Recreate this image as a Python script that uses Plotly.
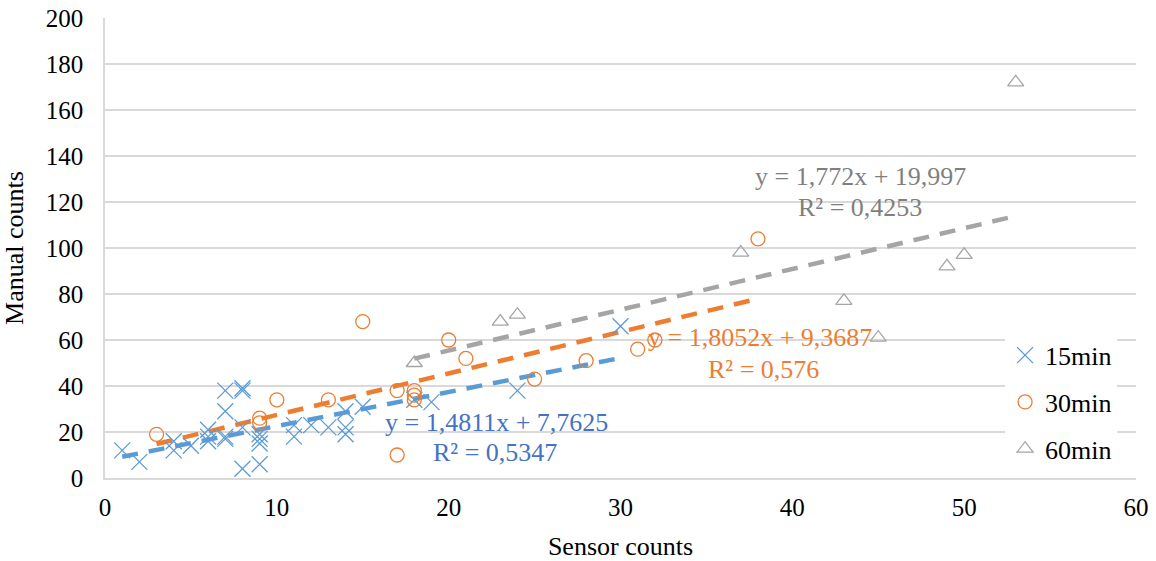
import plotly.graph_objects as go

# ---- data ----
x15 = [1, 2, 4, 4, 5, 6, 6, 6, 7, 7, 7, 7, 8, 8, 8, 8, 9, 9, 9, 9, 11, 11, 12, 13, 14, 14, 14, 15, 18, 19, 24, 30]
y15 = [12, 7, 12, 16, 14, 16, 18, 21, 38, 29, 18, 17, 39, 38, 22, 4, 6, 15, 17, 19, 18, 23, 23, 22, 29, 22, 19, 31, 34, 33, 38, 66]

x30 = [3, 9, 9, 10, 13, 15, 17, 17, 18, 18, 18, 20, 21, 25, 28, 31, 32, 38]
y30 = [19, 26, 24, 34, 34, 68, 38, 10, 38, 36, 34, 60, 52, 43, 51, 56, 60, 104]

x60 = [18, 23, 24, 37, 43, 45, 49, 50, 53]
y60 = [50, 68, 71, 98, 77, 61, 92, 97, 172]

series_names = ["15min", "30min", "60min"]
slopes = [1.4811, 1.8052, 1.772]
intercepts = [7.7625, 9.3687, 19.997]
r2 = ["0,5347", "0,576", "0,4253"]
eq_text = ["y = 1,4811x + 7,7625", "y = 1,8052x + 9,3687", "y = 1,772x + 19,997"]

x_ticks = [0, 10, 20, 30, 40, 50, 60]
y_ticks = [0, 20, 40, 60, 80, 100, 120, 140, 160, 180, 200]

# ---- styles ----
marker_colors = ["#5B9BD5", "#ED7D31", "#A5A5A5"]
label_colors = ["#4472C4", "#ED7D31", "#7F7F7F"]
symbols = ["x-thin-open", "circle-open", "triangle-up-open"]
FONT = "Liberation Serif, Times New Roman, serif"

xs = [x15, x30, x60]
ys = [y15, y30, y60]

fig = go.Figure()

# trendlines (drawn first, under markers)
for i in range(3):
    xr = [min(xs[i]), max(xs[i])]
    yr = [slopes[i] * v + intercepts[i] for v in xr]
    fig.add_trace(go.Scatter(
        x=xr, y=yr, mode="lines", showlegend=False, hoverinfo="skip",
        line=dict(color=marker_colors[i], width=4.5, dash="16px,11px"),
    ))

for i in range(3):
    fig.add_trace(go.Scatter(
        x=xs[i], y=ys[i], mode="markers", name=series_names[i],
        legendgroup=series_names[i],
        marker=dict(symbol=symbols[i], size=14 if i else 16,
                    color=marker_colors[i],
                    line=dict(color=marker_colors[i], width=1.3)),
    ))

# trendline labels (positions in data space)
label_pos = [
    ((22.76, 24.3), (22.7, 10.9)),
    ((38.1, 60.9), (38.3, 47.0)),
    ((43.95, 130.9), (43.95, 117.8)),
]
for i in range(3):
    (ex, ey), (rx, ry) = label_pos[i]
    fig.add_annotation(x=ex, y=ey, text=eq_text[i], showarrow=False,
                       font=dict(family=FONT, size=26, color=label_colors[i]),
                       xanchor="center", yanchor="middle")
    fig.add_annotation(x=rx, y=ry, text="R² = " + r2[i], showarrow=False,
                       font=dict(family=FONT, size=26, color=label_colors[i]),
                       xanchor="center", yanchor="middle")

fig.update_layout(
    width=1156, height=561,
    margin=dict(l=105, r=20, t=18, b=83, autoexpand=False),
    plot_bgcolor="white", paper_bgcolor="white",
    font=dict(family=FONT, size=25, color="#000000"),
    legend=dict(x=0.873, y=0.318, xanchor="left", yanchor="top",
                bgcolor="white", font=dict(family=FONT, size=26, color="#000000"),
                tracegroupgap=10, traceorder="grouped",
                itemwidth=30),
)
fig.update_xaxes(
    range=[0, 60], tickvals=x_ticks, ticktext=[str(v) for v in x_ticks],
    showgrid=False, zeroline=False, showline=True, linecolor="#D9D9D9", linewidth=1.5,
    ticks="", tickfont=dict(family=FONT, size=25), ticklabelstandoff=6,
    automargin=False,
    title=dict(text="Sensor counts", font=dict(family=FONT, size=26), standoff=22),
)
fig.update_yaxes(
    range=[0, 200], tickvals=y_ticks, ticktext=[str(v) for v in y_ticks],
    showgrid=True, gridcolor="#D9D9D9", gridwidth=1.5, zeroline=False,
    showline=True, linecolor="#D9D9D9", linewidth=1.5,
    ticks="", tickfont=dict(family=FONT, size=25), ticklabelstandoff=15,
    automargin=False,
    title=dict(text="Manual counts", font=dict(family=FONT, size=26), standoff=21),
)

fig.write_html("out.html")
